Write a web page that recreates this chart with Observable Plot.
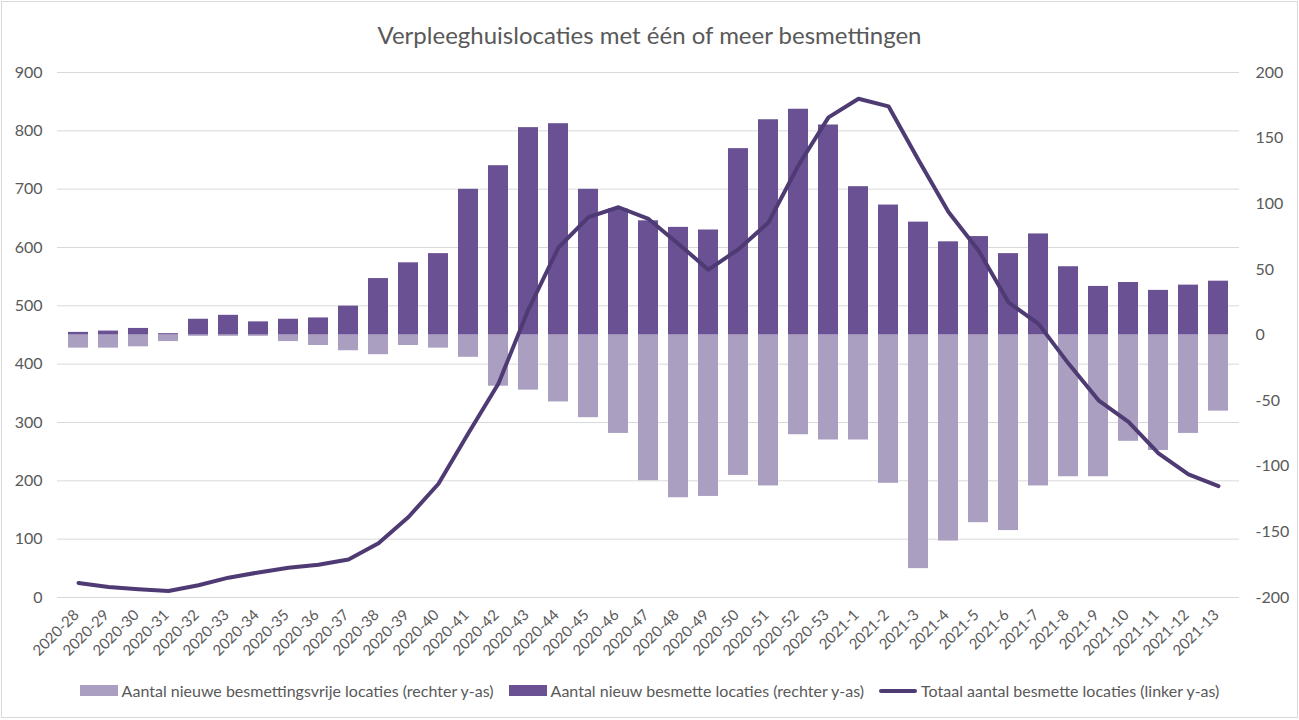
<!DOCTYPE html>
<html>
<head>
<meta charset="utf-8">
<script src="https://cdn.jsdelivr.net/npm/d3@7"></script>
<script src="https://cdn.jsdelivr.net/npm/@observablehq/plot@0.6"></script>
<style>
  html, body { margin: 0; padding: 0; background: #fff; }
  #wrap { position: relative; width: 1299px; height: 720px; font-family: Lato, "Open Sans", sans-serif; color: #595959; overflow: hidden; }
  #frame { position: absolute; left: 1px; top: 1px; width: 1295px; height: 715px; border: 1px solid #d9d9d9; pointer-events: none; }
  #title { position: absolute; top: 20px; left: 0; width: 1299px; text-align: center; font-size: 24px; line-height: 30px; color: #595959; }
  #chart { position: absolute; top: 60px; left: 0; }
  #legend { position: absolute; top: 681px; left: 0; width: 1299px; display: flex; justify-content: center; align-items: center; font-size: 16px; color: #595959; gap: 15px; }
  .item { display: flex; align-items: center; gap: 4px; }
  .sw { width: 38px; height: 11px; display: inline-block; }
  .ln { width: 38px; height: 4px; display: inline-block; }
</style>
</head>
<body>
<div id="wrap">
  <div id="title">Verpleeghuislocaties met één of meer besmettingen</div>
  <div id="chart"></div>
  <div id="legend"></div>
  <div id="frame"></div>
</div>
<script>
const weeks = ["2020-28","2020-29","2020-30","2020-31","2020-32","2020-33","2020-34","2020-35","2020-36","2020-37","2020-38","2020-39","2020-40","2020-41","2020-42","2020-43","2020-44","2020-45","2020-46","2020-47","2020-48","2020-49","2020-50","2020-51","2020-52","2020-53","2021-1","2021-2","2021-3","2021-4","2021-5","2021-6","2021-7","2021-8","2021-9","2021-10","2021-11","2021-12","2021-13"];
const nieuweBesmettingsvrij = [-10,-10,-9,-5,-1,-1,-1,-5,-8,-12,-15,-8,-10,-17,-39,-42,-51,-63,-75,-111,-124,-123,-107,-115,-76,-80,-80,-113,-178,-157,-143,-149,-115,-108,-108,-81,-88,-75,-58];
const nieuwBesmet = [2,3,5,1,12,15,10,12,13,22,43,55,62,111,129,158,161,111,96,87,82,80,142,164,172,160,113,99,86,71,75,62,77,52,37,40,34,38,41];
const totaalBesmet = [25,18,14,11,21,34,43,51,56,65,93,138,195,282,367,494,600,652,669,649,606,562,597,643,741,823,855,842,750,661,595,506,469,401,338,301,247,211,191];
const leftTicks = [0,100,200,300,400,500,600,700,800,900];
const rightTicks = [-200,-150,-100,-50,0,50,100,150,200];
const seriesNames = ["Aantal nieuwe besmettingsvrije locaties (rechter y-as)","Aantal nieuw besmette locaties (rechter y-as)","Totaal aantal besmette locaties (linker y-as)"];
const colors = ["#aa9fc0", "#6a5193", "#4f3b73"];

// right axis (-200..200) mapped onto left axis (0..900)
const toLeft = r => (r + 200) * 900 / 400;
const fromLeft = v => v * 400 / 900 - 200;

const data = weeks.map((w, i) => ({week: w, vrij: nieuweBesmettingsvrij[i], besmet: nieuwBesmet[i], totaal: totaalBesmet[i]}));

const chart = Plot.plot({
  width: 1299,
  height: 610,
  marginTop: 12,
  marginBottom: 73,
  marginLeft: 57,
  marginRight: 60,
  style: {fontFamily: "Lato, 'Open Sans', sans-serif", color: "#595959", background: "transparent"},
  x: {domain: weeks, padding: 0.34, label: null},
  y: {domain: [0, 900], label: null},
  marks: [
    Plot.gridY(leftTicks, {stroke: "#d9d9d9", strokeOpacity: 1, strokeWidth: 1}),
    Plot.axisY(leftTicks, {anchor: "left", tickSize: 0, tickPadding: 15, fontSize: 16, label: null, fill: "#595959"}),
    Plot.axisY(rightTicks.map(toLeft), {anchor: "right", tickSize: 0, tickPadding: 16, fontSize: 16, label: null, fill: "#595959", tickFormat: v => String(Math.round(fromLeft(v)))}),
    Plot.axisX({tickRotate: -45, tickSize: 0, tickPadding: 15, dx: -2, fontSize: 15, label: null, fill: "#595959"}),
    Plot.barY(data, {x: "week", y1: toLeft(0), y2: d => toLeft(d.vrij), fill: colors[0]}),
    Plot.barY(data, {x: "week", y1: toLeft(0), y2: d => toLeft(d.besmet), fill: colors[1]}),
    Plot.line(data, {x: "week", y: "totaal", stroke: colors[2], strokeWidth: 4, strokeLinejoin: "round", strokeLinecap: "round"})
  ]
});
document.getElementById("chart").appendChild(chart);

const legend = document.getElementById("legend");
seriesNames.forEach((name, i) => {
  const item = document.createElement("div");
  item.className = "item";
  const sw = document.createElement("span");
  sw.className = i === 2 ? "ln" : "sw";
  sw.style.background = colors[i];
  if (i === 2) sw.style.borderRadius = "2px";
  const t = document.createElement("span");
  t.textContent = name;
  item.appendChild(sw);
  item.appendChild(t);
  legend.appendChild(item);
});
</script>
</body>
</html>
